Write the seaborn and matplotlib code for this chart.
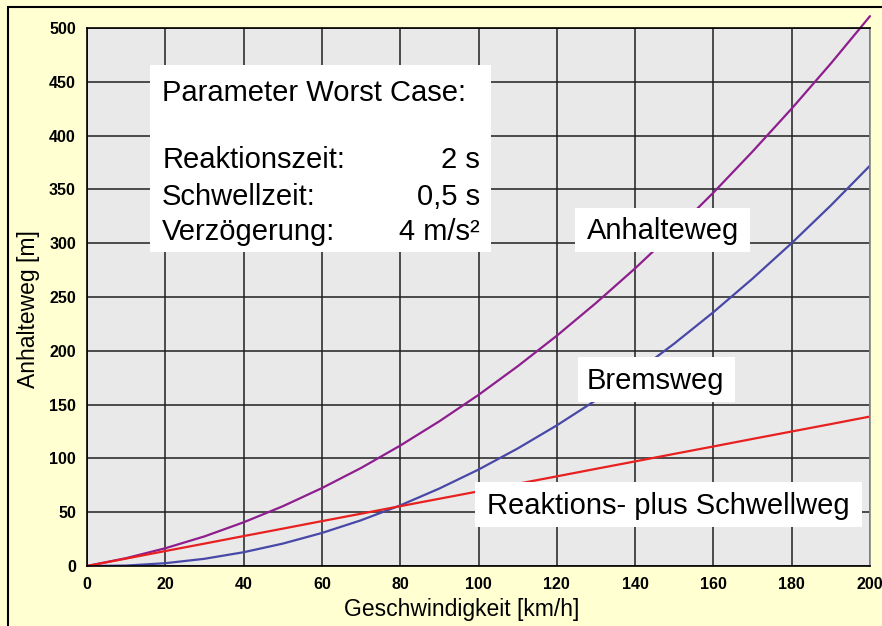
import matplotlib
matplotlib.use("Agg")
import matplotlib.pyplot as plt
import seaborn as sns
import pandas as pd
from matplotlib.patches import Rectangle

# ---- data ----
speed_kmh = [0, 10, 20, 30, 40, 50, 60, 70, 80, 90, 100,
             110, 120, 130, 140, 150, 160, 170, 180, 190, 200]
anhalteweg = [0, 7.3, 16.5, 27.5, 40.6, 55.5, 72.4, 91.1, 111.9, 134.5, 159.0,
              185.6, 214.0, 244.4, 276.6, 310.9, 347.0, 385.2, 425.1, 467.0, 511.0]
bremsweg = [0, 0.4, 2.6, 6.7, 12.8, 20.8, 30.7, 42.5, 56.3, 72.0, 89.6,
            109.2, 130.7, 154.1, 179.4, 206.7, 235.9, 267.1, 300.1, 335.1, 372.1]
reaktionsweg = [0, 6.9, 13.9, 20.8, 27.8, 34.7, 41.7, 48.6, 55.6, 62.5, 69.4,
                76.4, 83.3, 90.3, 97.2, 104.2, 111.1, 118.1, 125.0, 131.9, 138.9]

x_ticks = [0, 20, 40, 60, 80, 100, 120, 140, 160, 180, 200]
y_ticks = [0, 50, 100, 150, 200, 250, 300, 350, 400, 450, 500]

param_title = "Parameter Worst Case:"
param_names = ["Reaktionszeit:", "Schwellzeit:", "Verzögerung:"]
param_values = ["2 s", "0,5 s", "4 m/s²"]

df = pd.DataFrame({"v": speed_kmh, "Anhalteweg": anhalteweg,
                   "Bremsweg": bremsweg, "Reaktionsweg": reaktionsweg})

sns.set_style("white")
plt.rcParams['font.family'] = ['Liberation Sans', 'DejaVu Sans']
plt.rcParams['text.color'] = 'black'
plt.rcParams['axes.labelcolor'] = 'black'
plt.rcParams['xtick.color'] = 'black'
plt.rcParams['ytick.color'] = 'black'

W, H = 882, 626
fig = plt.figure(figsize=(W / 100, H / 100), dpi=100)
fig.patch.set_facecolor("#FFFFD2")
fig.patches.append(Rectangle((8 / W, -0.05), 1.2, (H - 7) / H + 0.05,
                             transform=fig.transFigure, fill=False,
                             edgecolor="black", linewidth=1.5))

ax = fig.add_axes([87 / W, (H - 566) / H, (870 - 87) / W, (566 - 28) / H])
ax.set_facecolor("#E9E9E9")

ax.set_xlim(0, 200)
ax.set_ylim(0, 500)
ax.set_xticks(x_ticks)
ax.set_yticks(y_ticks)
ax.grid(True, color="#202020", linewidth=1.1)
ax.set_axisbelow(True)

ax.tick_params(axis="both", direction="out", length=5, width=1, color="black",
               labelsize=11.5, pad=3, labelcolor="black")
for lbl in ax.get_xticklabels() + ax.get_yticklabels():
    lbl.set_fontfamily(['Liberation Sans Narrow', 'Liberation Sans'])
    lbl.set_fontweight('bold')

for s in ["left", "bottom", "top"]:
    ax.spines[s].set_color("black")
    ax.spines[s].set_linewidth(1.2)
ax.spines["right"].set_color("#888888")
ax.spines["right"].set_linewidth(1.2)

sns.lineplot(data=df, x="v", y="Anhalteweg", ax=ax, color="#8E1E8E",
             linewidth=1.6, clip_on=False)
sns.lineplot(data=df, x="v", y="Bremsweg", ax=ax, color="#4848A8",
             linewidth=1.6)
sns.lineplot(data=df, x="v", y="Reaktionsweg", ax=ax, color="#E82020",
             linewidth=1.6)

ax.set_xlabel("Geschwindigkeit [km/h]", fontsize=16.5)
ax.xaxis.set_label_coords(0.479, -0.059)
ax.set_ylabel("Anhalteweg [m]", fontsize=16.5)
ax.yaxis.set_label_coords(-0.060, 0.478)

fs = 21
# parameter box
ax.add_patch(Rectangle((16.1, 291.8), 103.2 - 16.1, 465.6 - 291.8,
                       facecolor="white", edgecolor="none", zorder=3))
ax.text(19.2, 439.6, param_title, fontsize=fs, va="center", ha="left", zorder=4)
for yv, nm, val in zip([377.3, 342.9, 310.4], param_names, param_values):
    ax.text(19.2, yv, nm, fontsize=fs, va="center", ha="left", zorder=4)
    ax.text(100.4, yv, val, fontsize=fs, va="center", ha="right", zorder=4)

# curve labels with white boxes
ax.add_patch(Rectangle((124.6, 291.8), 169.3 - 124.6, 332.7 - 291.8,
                       facecolor="white", edgecolor="none", zorder=3))
ax.text(127.7, 311.0, "Anhalteweg", fontsize=fs, va="center", ha="left", zorder=4)

ax.add_patch(Rectangle((125.4, 152.4), 165.5 - 125.4, 194.2 - 152.4,
                       facecolor="white", edgecolor="none", zorder=3))
ax.text(127.7, 172.0, "Bremsweg", fontsize=fs, va="center", ha="left", zorder=4)

ax.add_patch(Rectangle((99.1, 36.2), 198.0 - 99.1, 78.1 - 36.2,
                       facecolor="white", edgecolor="none", zorder=3))
ax.text(102.2, 56.0, "Reaktions- plus Schwellweg", fontsize=fs, va="center",
        ha="left", zorder=4)

fig.savefig("out.png", dpi=100, facecolor=fig.get_facecolor())
